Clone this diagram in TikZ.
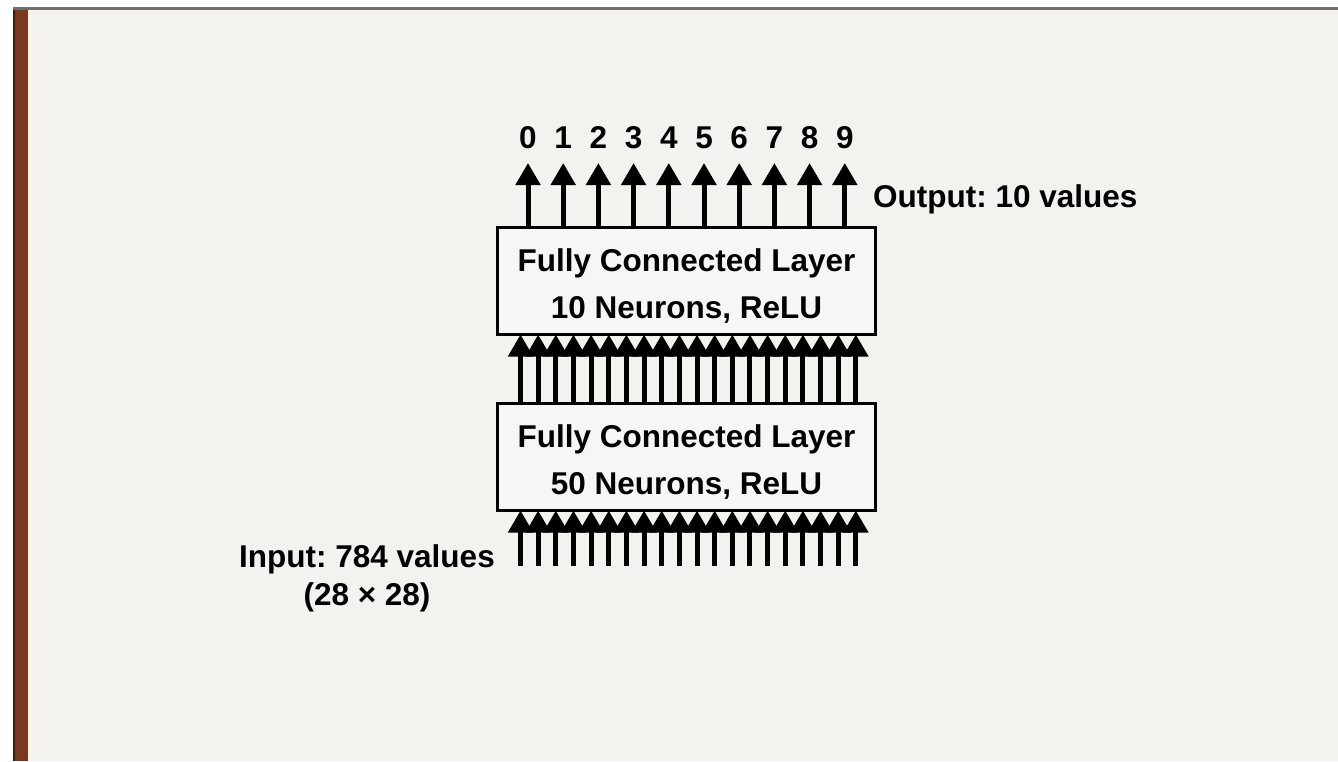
\documentclass[tikz,border=0pt]{standalone}
\usepackage{fontspec}
\setmainfont{Liberation Sans}
\usepackage{tikz}
\usetikzlibrary{calc,positioning,arrows.meta}
\definecolor{paper}{RGB}{243,242,239}
\definecolor{boxfill}{RGB}{246,246,244}
\definecolor{spine}{RGB}{122,57,31}
\definecolor{spinedark}{RGB}{60,28,12}
\definecolor{spineedge}{RGB}{250,246,236}
\definecolor{toprule}{RGB}{110,110,110}
\frenchspacing
\newcommand{\layerstrut}{\rule{0pt}{33pt}}

\begin{document}
\begin{tikzpicture}[
    x=1pt, y=-1pt,
    every node/.style={font=\fontsize{31.5}{38}\selectfont\bfseries},
    layer/.style={rectangle, draw, line width=3pt, outer sep=0pt, minimum width=378pt, minimum height=107pt, align=center, fill=boxfill, font=\fontsize{31.5}{47}\selectfont\bfseries},
    arrow/.style={-{Triangle[width=24pt,length=22pt]}, line width=5pt},
]
% page
\useasboundingbox (0,0) rectangle (1338,761);
\fill[white] (0,0) rectangle (1338,761);
\fill[paper] (13,7) rectangle (1338,761);
\fill[spine] (13,7) rectangle (28,761);
\fill[spinedark] (13,7) rectangle (15,761);
\fill[spineedge] (28,7) rectangle (31,761);
\fill[toprule] (13,7) rectangle (1338,9.5);

% layers
\node[layer] (fc50) at (686.5,457) {\layerstrut Fully Connected Layer\\50 Neurons, ReLU};
\node[layer, above=69pt of fc50] (fc10) {\layerstrut Fully Connected Layer\\10 Neurons, ReLU};

% outputs
\foreach \i in {0,...,9} {
  \node[anchor=base, inner sep=0pt] (d\i) at (528+35.2*\i,148) {\i};
  \draw[arrow] (fc10.north -| d\i) -- ($(d\i.base)+(0,15)$);
}

% inputs and hidden connections
\foreach \j in {0,...,19} {
  \coordinate (in\j) at (520.5+17.65*\j,566);
  \draw[arrow] (in\j) -- (in\j |- fc50.south);
  \draw[arrow] (in\j |- fc50.north) -- (in\j |- fc10.south);
}

\node[anchor=base west, inner sep=0pt] (outlbl) at (873,207) {Output: 10 values};
\node[anchor=north, inner sep=0pt, align=center] (inlbl) at (367,544) {Input: 784 values\\(28 × 28)};
\end{tikzpicture}
\end{document}
